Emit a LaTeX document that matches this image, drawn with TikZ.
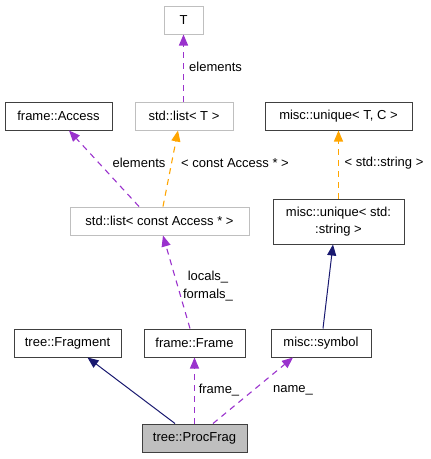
\documentclass[tikz,border=0pt]{standalone}
\usepackage{fontspec}
\setmainfont{Liberation Sans}
\usetikzlibrary{arrows.meta}
\definecolor{dpurple}{HTML}{9A32CD}
\definecolor{dorange}{HTML}{FFA500}
\definecolor{dnavy}{HTML}{191970}
\definecolor{gborder}{HTML}{BFBFBF}
\definecolor{bborder}{HTML}{404040}
\begin{document}
\begin{tikzpicture}[x=1pt,y=-1pt,
  box/.style={draw=bborder,line width=1pt,inner sep=0pt,minimum height=28pt,font=\fontsize{13}{15}\selectfont,fill=white},
  gbox/.style={box,draw=gborder},
  lbl/.style={inner sep=0pt,font=\fontsize{13}{15}\selectfont},
  usage/.style={draw=dpurple,line width=1.1pt,dash pattern=on 6pt off 5pt,arrows={-{Triangle[length=11pt,width=9pt,fill=dpurple]}}},
  templ/.style={draw=dorange,line width=1.1pt,dash pattern=on 6pt off 5pt,arrows={-{Triangle[length=11pt,width=9pt,fill=dorange]}}},
  inherit/.style={draw=dnavy,line width=1pt,arrows={-{Triangle[length=11pt,width=9pt,fill=dnavy]}}}]
\useasboundingbox (0,0) rectangle (431,459);
\node[gbox,minimum width=39pt] (T) at (183.5,20) {T};
\node[box,minimum width=107pt] (access) at (58.5,116) {frame::Access};
\node[gbox,minimum width=98pt] (listT) at (184,116) {std::list< T >};
\node[box,minimum width=147pt] (uniqTC) at (338.5,116) {misc::unique< T, C >};
\node[gbox,minimum width=179pt] (listA) at (159.5,221) {std::list< const Access * >};
\node[box,minimum width=131pt,minimum height=45pt,align=center,font=\fontsize{13}{17}\selectfont] (uniqS) at (338.5,221.5) {misc::unique< std:\\:string >};
\node[box,minimum width=107pt] (frag) at (67.5,343) {tree::Fragment};
\node[box,minimum width=101pt] (frameN) at (194.5,343) {frame::Frame};
\node[box,minimum width=100pt] (symbol) at (321,343) {misc::symbol};
\node[box,minimum width=105pt,fill=gborder] (proc) at (194.5,438) {tree::ProcFrag};

\draw[usage,line width=1.4pt] ([xshift=-0.5pt]listT.north) -- (T.south);
\draw[usage] ([xshift=-20.5pt]listA.north) -- ([xshift=10.5pt]access.south);
\draw[templ] ([xshift=3.5pt]listA.north) -- ([xshift=-6pt]listT.south);
\draw[templ] (uniqS.north) -- (uniqTC.south);
\draw[usage] ([xshift=-4.5pt]frameN.north) -- ([xshift=3.5pt]listA.south);
\draw[inherit] ([xshift=2pt]symbol.north) -- ([xshift=-5.5pt]uniqS.south);
\draw[inherit] ([xshift=-19.5pt]proc.north) -- ([xshift=20pt]frag.south);
\draw[usage] (proc.north) -- (frameN.south);
\draw[usage] ([xshift=18.5pt]proc.north) -- ([xshift=-28pt]symbol.south);

\node[lbl,anchor=west] (l1) at (189,67) {elements};
\node[lbl] (l2) at (139,163) {elements};
\node[lbl] (l3) at (235,163) {< const Access * >};
\node[lbl] (l4) at (384,163) {< std::string >};
\node[lbl] (l5) at (208,277) {locals\_};
\node[lbl] (l6) at (208,295) {formals\_};
\node[lbl] (l7) at (219,390) {frame\_};
\node[lbl] (l8) at (293,390) {name\_};
\end{tikzpicture}
\end{document}
